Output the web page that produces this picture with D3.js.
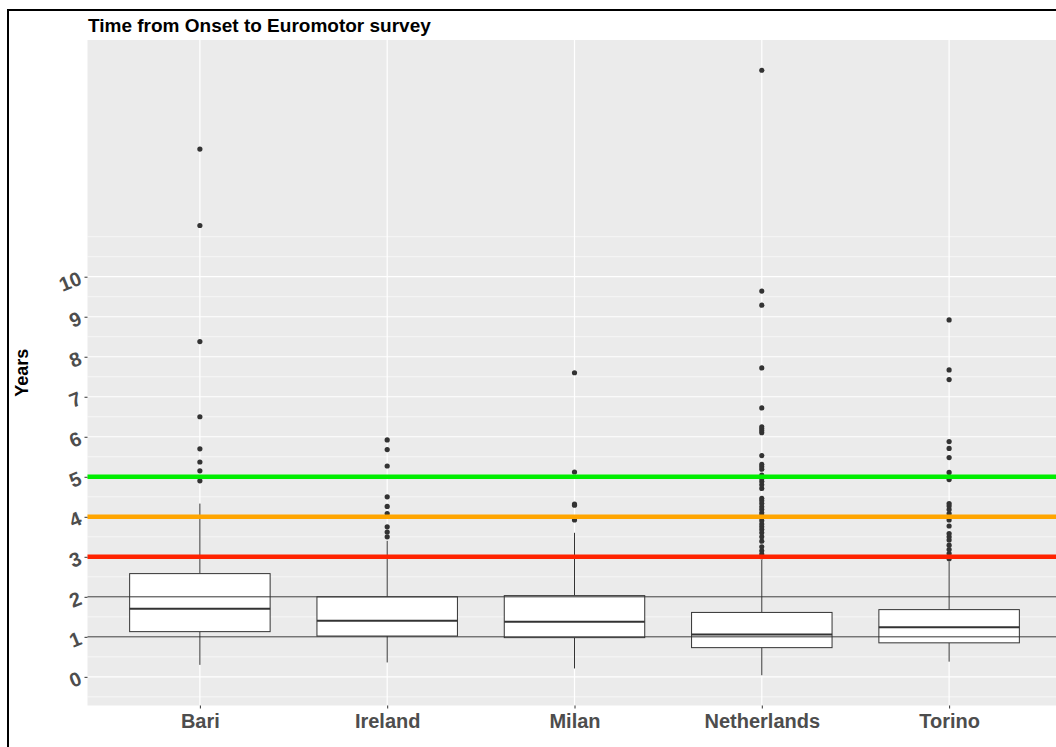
<!DOCTYPE html>
<html>
<head>
<meta charset="utf-8">
<script src="https://cdn.jsdelivr.net/npm/d3@7"></script>
<style>
  html, body { margin: 0; padding: 0; background: #ffffff; }
  svg { display: block; }
  text { font-family: "Liberation Sans", Arial, sans-serif; }
</style>
</head>
<body>
<svg id="chart" width="1056" height="747"></svg>
<script>
// Boxplot summary of years from onset to survey, per centre
const centres      = ["Bari", "Ireland", "Milan", "Netherlands", "Torino"];
const whiskerLow   = [0.30, 0.36, 0.21, 0.04, 0.38];
const lowerQuart   = [1.13, 1.02, 0.98, 0.73, 0.85];
const medians      = [1.70, 1.40, 1.38, 1.06, 1.24];
const upperQuart   = [2.58, 2.00, 2.03, 1.61, 1.68];
const whiskerHigh  = [4.33, 3.40, 3.60, 2.92, 2.88];

const outliersBari        = [4.90, 5.15, 5.37, 5.70, 6.50, 8.38, 11.28, 13.19];
const outliersIreland     = [3.50, 3.62, 3.75, 4.08, 4.26, 4.50, 5.27, 5.68, 5.92];
const outliersMilan       = [3.92, 4.29, 4.32, 5.12, 7.60];
const outliersNetherlands = [3.00, 3.07, 3.15, 3.25, 3.39, 3.50, 3.60, 3.68, 3.75, 3.82,
                             3.90, 3.97, 4.04, 4.10, 4.18, 4.25, 4.33, 4.40, 4.46,
                             4.71, 4.80, 4.88, 4.95, 5.04, 5.19, 5.25, 5.31, 5.53,
                             6.10, 6.15, 6.20, 6.25, 6.72, 7.72, 9.29, 9.64, 15.16];
const outliersTorino      = [2.95, 3.08, 3.18, 3.29, 3.42, 3.50, 3.58, 3.77, 3.92, 4.08,
                             4.18, 4.27, 4.33, 4.93, 5.11, 5.48, 5.71, 5.88, 7.43, 7.67, 8.92];
const outlierSets = [outliersBari, outliersIreland, outliersMilan, outliersNetherlands, outliersTorino];

// Reference lines
const refGrey   = [1, 2];
const refColour = [3, 4, 5];
const refColours = ["#ff2200", "#ffa500", "#00ee00"];

const yTicks = [0, 1, 2, 3, 4, 5, 6, 7, 8, 9, 10];
const titleText = "Time from Onset to Euromotor survey";
const yLabel = "Years";

const boxes = centres.map((c, i) => ({
  centre: c, lo: whiskerLow[i], q1: lowerQuart[i], med: medians[i],
  q3: upperQuart[i], hi: whiskerHigh[i], out: outlierSets[i]
}));

const svg = d3.select("#chart");

// Panel geometry
const panel = { left: 87.5, right: 1061.5, top: 40, bottom: 705.5 };

// Outer frame
svg.append("rect")
  .attr("x", 8).attr("y", 10).attr("width", 1100).attr("height", 800)
  .attr("fill", "none").attr("stroke", "#000").attr("stroke-width", 2);

// Scales: 5% expansion on the data range
const allVals = boxes.flatMap(b => [b.lo, b.hi, ...b.out]);
const dMin = d3.min(allVals), dMax = d3.max(allVals);
const pad = (dMax - dMin) * 0.05;
const y = d3.scaleLinear().domain([dMin - pad, dMax + pad]).range([panel.bottom, panel.top]);
const x = d3.scalePoint().domain(centres).range([panel.left, panel.right]).padding(0.6);
const step = x.step();
const boxW = step * 0.75;

// Panel background
svg.append("rect")
  .attr("x", panel.left).attr("y", panel.top)
  .attr("width", panel.right - panel.left).attr("height", panel.bottom - panel.top)
  .attr("fill", "#ebebeb");

const grid = svg.append("g");
// minor grid: halves between the breaks, plus the extended break above
const minor = d3.range(-0.5, 11, 1).concat([11]).filter(v => y(v) <= panel.bottom && y(v) >= panel.top);
grid.selectAll("line.minor").data(minor).join("line")
  .attr("x1", panel.left).attr("x2", panel.right)
  .attr("y1", d => y(d)).attr("y2", d => y(d))
  .attr("stroke", "#ffffff").attr("stroke-width", 0.6);
grid.selectAll("line.major").data(yTicks).join("line")
  .attr("x1", panel.left).attr("x2", panel.right)
  .attr("y1", d => y(d)).attr("y2", d => y(d))
  .attr("stroke", "#ffffff").attr("stroke-width", 1.2);
grid.selectAll("line.vmajor").data(centres).join("line")
  .attr("x1", d => x(d)).attr("x2", d => x(d))
  .attr("y1", panel.top).attr("y2", panel.bottom)
  .attr("stroke", "#ffffff").attr("stroke-width", 1.2);

// Boxplots
const g = svg.append("g");
const bg = g.selectAll("g.box").data(boxes).join("g").attr("class", "box");
bg.append("line")
  .attr("x1", d => x(d.centre)).attr("x2", d => x(d.centre))
  .attr("y1", d => y(d.q3)).attr("y2", d => y(d.hi))
  .attr("stroke", "#333").attr("stroke-width", 1);
bg.append("line")
  .attr("x1", d => x(d.centre)).attr("x2", d => x(d.centre))
  .attr("y1", d => y(d.q1)).attr("y2", d => y(d.lo))
  .attr("stroke", "#333").attr("stroke-width", 1);
bg.append("rect")
  .attr("x", d => x(d.centre) - boxW / 2).attr("width", boxW)
  .attr("y", d => y(d.q3)).attr("height", d => y(d.q1) - y(d.q3))
  .attr("fill", "#ffffff").attr("stroke", "#333").attr("stroke-width", 1);
bg.append("line")
  .attr("x1", d => x(d.centre) - boxW / 2).attr("x2", d => x(d.centre) + boxW / 2)
  .attr("y1", d => y(d.med)).attr("y2", d => y(d.med))
  .attr("stroke", "#333").attr("stroke-width", 2);
bg.selectAll("circle").data(d => d.out.map(v => ({ c: d.centre, v }))).join("circle")
  .attr("cx", d => x(d.c)).attr("cy", d => y(d.v)).attr("r", 2.6)
  .attr("fill", "#333");

// Horizontal reference lines
svg.append("g").selectAll("line").data(refGrey).join("line")
  .attr("x1", panel.left).attr("x2", panel.right)
  .attr("y1", d => y(d)).attr("y2", d => y(d))
  .attr("stroke", "#333").attr("stroke-width", 1);
svg.append("g").selectAll("line").data(refColour).join("line")
  .attr("x1", panel.left).attr("x2", panel.right)
  .attr("y1", d => y(d)).attr("y2", d => y(d))
  .attr("stroke", (d, i) => refColours[i]).attr("stroke-width", 4.5);

// Y axis
const yAxis = svg.append("g")
  .attr("transform", `translate(${panel.left},0)`)
  .call(d3.axisLeft(y).tickValues(yTicks).tickSize(3).tickPadding(4).tickFormat(d3.format("d")));
yAxis.select(".domain").remove();
yAxis.selectAll(".tick line").attr("stroke", "#333").attr("stroke-width", 1);
yAxis.selectAll(".tick text")
  .attr("fill", "#4d4d4d").attr("font-size", 20).attr("font-weight", "bold")
  .attr("dy", "0.35em")
  .attr("transform", "rotate(-22,-7,0)");

// X axis
const xAxis = svg.append("g")
  .attr("transform", `translate(0,${panel.bottom})`)
  .call(d3.axisBottom(x).tickSize(3).tickPadding(5));
xAxis.select(".domain").remove();
xAxis.selectAll(".tick line").attr("stroke", "#333");
xAxis.selectAll(".tick text")
  .attr("fill", "#4d4d4d").attr("font-size", 20).attr("font-weight", "bold");

// Title and axis label
svg.append("text").attr("x", 88).attr("y", 32)
  .attr("font-size", 19).attr("font-weight", "bold").attr("fill", "#000")
  .text(titleText);
svg.append("text")
  .attr("transform", `translate(28,${(panel.top + panel.bottom) / 2}) rotate(-90)`)
  .attr("text-anchor", "middle")
  .attr("font-size", 18).attr("font-weight", "bold").attr("fill", "#000")
  .text(yLabel);
</script>
</body>
</html>
